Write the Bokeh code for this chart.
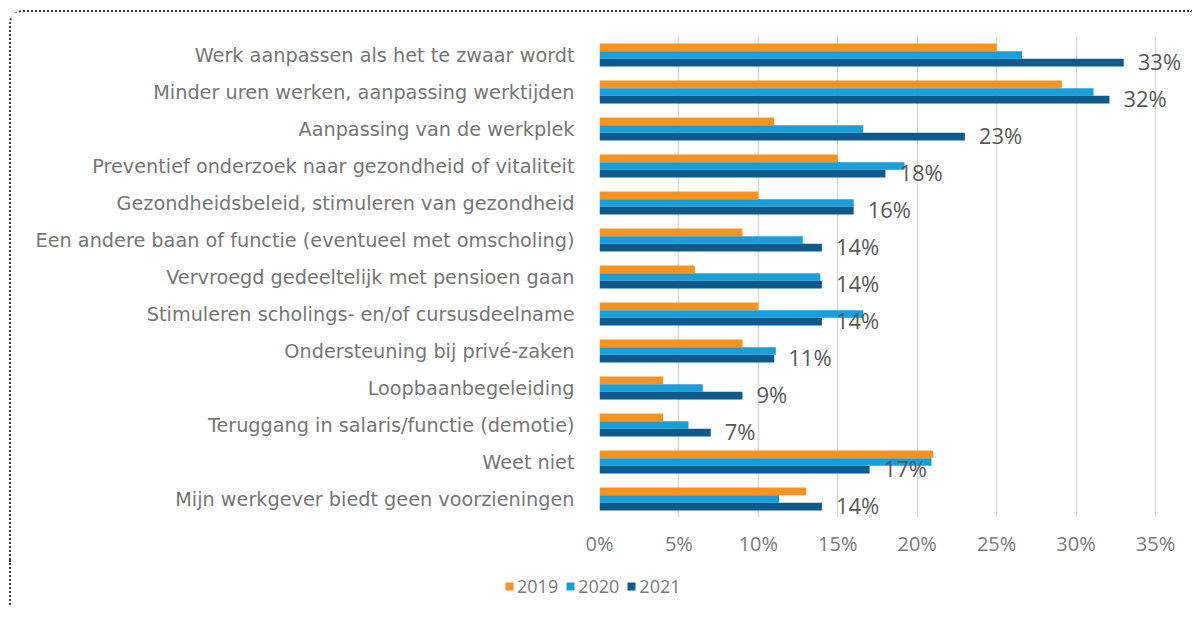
from bokeh.plotting import figure
from bokeh.models import ColumnDataSource, FactorRange, Range1d, FixedTicker, Legend, LegendItem, NumeralTickFormatter
from bokeh.transform import dodge
from bokeh.core.properties import value
from bokeh.embed import file_html
from bokeh.resources import INLINE

categories = [
    "Werk aanpassen als het te zwaar wordt",
    "Minder uren werken, aanpassing werktijden",
    "Aanpassing van de werkplek",
    "Preventief onderzoek naar gezondheid of vitaliteit",
    "Gezondheidsbeleid, stimuleren van gezondheid",
    "Een andere baan of functie (eventueel met omscholing)",
    "Vervroegd gedeeltelijk met pensioen gaan",
    "Stimuleren scholings- en/of cursusdeelname",
    "Ondersteuning bij privé-zaken",
    "Loopbaanbegeleiding",
    "Teruggang in salaris/functie (demotie)",
    "Weet niet",
    "Mijn werkgever biedt geen voorzieningen",
]
v2019 = [25.0, 29.1, 11.0, 15.0, 10.0, 9.0, 6.0, 10.0, 9.0, 4.0, 4.0, 21.0, 13.0]
v2020 = [26.6, 31.1, 16.6, 19.2, 16.0, 12.8, 13.9, 16.6, 11.1, 6.5, 5.6, 20.9, 11.3]
v2021 = [33.0, 32.1, 23.0, 18.0, 16.0, 14.0, 14.0, 14.0, 11.0, 9.0, 7.0, 17.0, 14.0]
labels2021 = ["33%", "32%", "23%", "18%", "16%", "14%", "14%", "14%", "11%", "9%", "7%", "17%", "14%"]
series = ["2019", "2020", "2021"]
colors = ["#F7931E", "#189FD9", "#0E5A8C"]
xticks = [0, 5, 10, 15, 20, 25, 30, 35]

source = ColumnDataSource(dict(
    cat=categories,
    y2019=[v / 100 for v in v2019],
    y2020=[v / 100 for v in v2020],
    y2021=[v / 100 for v in v2021],
    lab=labels2021,
))

W = 1183
LEFT = 588
xmax = 0.35 * (W - LEFT) / 556.0

p = figure(
    width=W, height=550,
    y_range=FactorRange(*reversed(categories), range_padding=0),
    x_range=Range1d(0, xmax),
    output_backend="svg", toolbar_location=None,
)
p.min_border_left = LEFT
p.min_border_right = 0
p.min_border_top = 24
p.min_border_bottom = 45
p.outline_line_color = None
p.background_fill_color = "white"
p.border_fill_color = "white"

bh = 0.205
offsets = [bh, 0.0, -bh]
for s, c, off in zip(series, colors, offsets):
    p.hbar(y=dodge("cat", off, range=p.y_range), right="y" + s, left=0,
           height=bh, source=source, fill_color=c, line_color=None)

p.text(x="y2021", y=dodge("cat", -bh, range=p.y_range), text="lab", source=source,
       x_offset=14, y_offset=-2, text_align="left", text_baseline="middle",
       text_font=value("Open Sans"), text_font_size="22px", text_color="#595959")

# axes
p.xaxis.ticker = FixedTicker(ticks=[t / 100 for t in xticks])
p.xaxis.formatter = NumeralTickFormatter(format="0%")
p.xaxis.axis_line_color = None
p.xaxis.major_tick_line_color = None
p.xaxis.minor_tick_line_color = None
p.xaxis.major_label_standoff = 6
p.xaxis.major_label_text_font = "Open Sans"
p.xaxis.major_label_text_font_size = "20px"
p.xaxis.major_label_text_color = "#7a7a7a"

p.yaxis.axis_line_color = None
p.yaxis.major_tick_line_color = None
p.yaxis.minor_tick_line_color = None
p.yaxis.major_label_standoff = 19
p.yaxis.major_label_text_font = "DejaVu Sans"
p.yaxis.major_label_text_font_size = "19.25px"
p.yaxis.major_label_text_color = "#767676"

p.ygrid.grid_line_color = None
p.xgrid.grid_line_color = "#d9d9d9"
p.xgrid.grid_line_width = 1.5

p.styles = {
    "border-top": "2px dotted #3a3a3a",
    "border-left": "2px dotted #3a3a3a",
    "border-top-left-radius": "14px",
    "margin-top": "10px",
    "margin-left": "9px",
}

# legend in its own strip below the chart (series drawn out of view, only legend shows)
lf = figure(width=W, height=45, x_range=Range1d(0, 1), y_range=Range1d(10, 11),
            output_backend="svg", toolbar_location=None,
            x_axis_type=None, y_axis_type=None)
lf.min_border_left = 0
lf.min_border_right = 0
lf.min_border_top = 0
lf.min_border_bottom = 0
lf.outline_line_color = None
lf.xgrid.grid_line_color = None
lf.ygrid.grid_line_color = None
lf.border_fill_color = "white"
lf.background_fill_color = "white"
items = []
for s, c in zip(series, colors):
    r = lf.hbar(y="y" + s, right="y" + s, left=0, height=0.01, source=source,
                fill_color=c, line_color=None)
    items.append(LegendItem(label=s, renderers=[r]))
legend = Legend(
    items=items,
    orientation="horizontal",
    location=(493, 7),
    glyph_width=10, glyph_height=10,
    label_standoff=3, spacing=7, padding=0, margin=0,
    border_line_color=None, background_fill_alpha=0,
    label_text_font="Open Sans", label_text_font_size="18px",
    label_text_color="#7a7a7a",
)
lf.add_layout(legend, "center")
lf.styles = {
    "border-left": "2px dotted #3a3a3a",
    "margin-left": "9px",
}

open("out.html", "w").write(file_html([p, lf], INLINE))
